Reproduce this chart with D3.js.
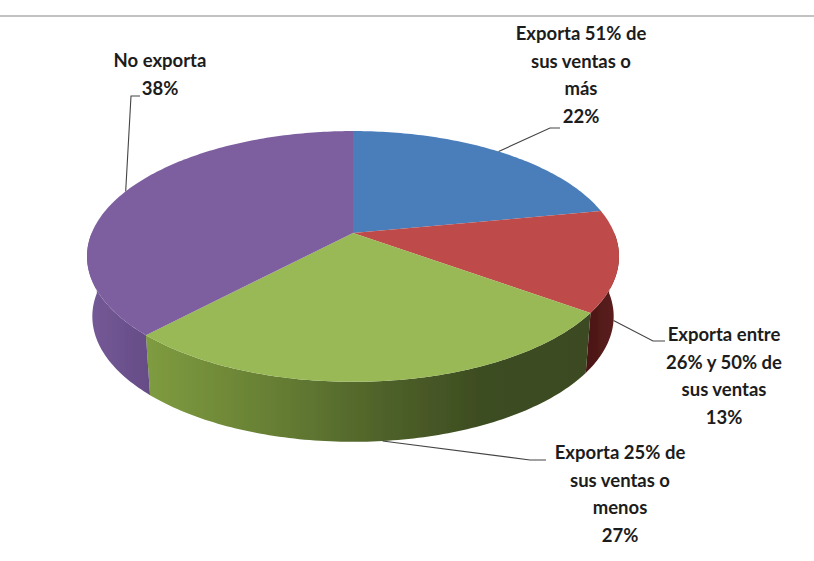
<!DOCTYPE html>
<html><head><meta charset="utf-8">
<script src="https://cdn.jsdelivr.net/npm/d3@7/dist/d3.min.js"></script>
<style>html,body{margin:0;padding:0;background:#fff}svg{display:block}</style>
</head><body><svg id="c" width="814" height="561"></svg>
<script>
const categories = ["Exporta 51% de sus ventas o más","Exporta entre 26% y 50% de sus ventas","Exporta 25% de sus ventas o menos","No exporta"];
const values = [22,13,27,38];
const labelLines = [
  ["Exporta 51% de","sus ventas o","más","22%"],
  ["Exporta entre","26% y 50% de","sus ventas","13%"],
  ["Exporta 25% de","sus ventas o","menos","27%"],
  ["No exporta","38%"]
];
const topColors = ["#4a7ebb","#be4b48","#98b954","#7d5fa0"];
const wallStops = [
  [],
  [[0,"#4a1616"],[1,"#5e1f1e"]],
  [[0,"#7f9c40"],[0.3,"#657d33"],[0.55,"#4d6029"],[0.75,"#3e4d22"],[1,"#3c4a20"]],
  [[0,"#755a98"],[1,"#654c86"]]
];
const labelAnchors = [[581,40],[724,341],[620,459],[160,67]];
const elbowEnds = [[[550,128],[560,128]],[[653,341],[665,341]],[[530,460],[546,460]],[[131,96],[140,96]]];

const svg = d3.select("#c");
const W=814;
// perspective pie projection
const cx=353, cy=233, A=261.3, B=121, p=0.187, depth=60, shrink=0.98;
function proj(theta, r=1, low=false){
  const u=Math.sin(theta)*r, v=Math.cos(theta)*r, w=1+p*v;
  return [cx+(low?shrink:1)*A*u/w, cy+(low?depth:0)-B*v/w];
}
const pie=d3.pie().sort(null).value(d=>d).startAngle(0).endAngle(2*Math.PI);
const arcs=pie(values);
const line=d3.line();
const N=d=>Math.max(2,Math.ceil((d)*60));
function rim(a0,a1,low){ return d3.range(N(a1-a0)+1).map(i=>proj(a0+(a1-a0)*i/N(a1-a0),1,low)); }

svg.append("rect").attr("width",W).attr("height",561).attr("fill","#fff");
svg.append("line").attr("x1",0).attr("x2",W).attr("y1",16).attr("y2",16).attr("stroke","#aeaeae").attr("stroke-width",1.6);

const defs=svg.append("defs");
const f=defs.append("filter").attr("id","soft").attr("x","-5%").attr("y","-5%").attr("width","110%").attr("height","110%");
f.append("feGaussianBlur").attr("stdDeviation",0.5);

const g=svg.append("g").attr("filter","url(#soft)");
const HALF=Math.PI/2, FRONT_END=3*Math.PI/2;
arcs.forEach((a,i)=>{
  const s=Math.max(a.startAngle,HALF), e=Math.min(a.endAngle,FRONT_END);
  if(e<=s) return;
  const top=rim(s,e,false), low=rim(s,e,true);
  const xs=top.concat(low).map(d=>d[0]);
  const grad=defs.append("linearGradient").attr("id","w"+i).attr("gradientUnits","userSpaceOnUse")
    .attr("x1",d3.min(xs)).attr("x2",d3.max(xs)).attr("y1",0).attr("y2",0);
  wallStops[i].forEach(t=>grad.append("stop").attr("offset",t[0]).attr("stop-color",t[1]));
  g.append("path").attr("d",line(top.concat(low.reverse()))+"Z").attr("fill",`url(#w${i})`);
});
arcs.forEach((a,i)=>{
  const pts=[[cx,cy]].concat(rim(a.startAngle,a.endAngle,false));
  g.append("path").attr("d",line(pts)+"Z").attr("fill",topColors[i]);
});

// leaders
arcs.forEach((a,i)=>{
  const mid=(a.startAngle+a.endAngle)/2;
  const front=mid>HALF&&mid<FRONT_END;
  const start=proj(mid,1,front);
  svg.append("path").attr("d",line([start,...elbowEnds[i]])).attr("fill","none")
    .attr("stroke","#444").attr("stroke-width",1.1);
});

// labels
labelLines.forEach((ls,i)=>{
  const t=svg.append("text").attr("text-anchor","middle").attr("font-family","Lato, 'Open Sans', sans-serif")
    .attr("font-weight",700).attr("font-size",18.5).attr("fill","#1c1c1c");
  ls.forEach((s,j)=>t.append("tspan").attr("x",labelAnchors[i][0]).attr("y",labelAnchors[i][1]+j*27.7).text(s));
});
</script></body></html>
